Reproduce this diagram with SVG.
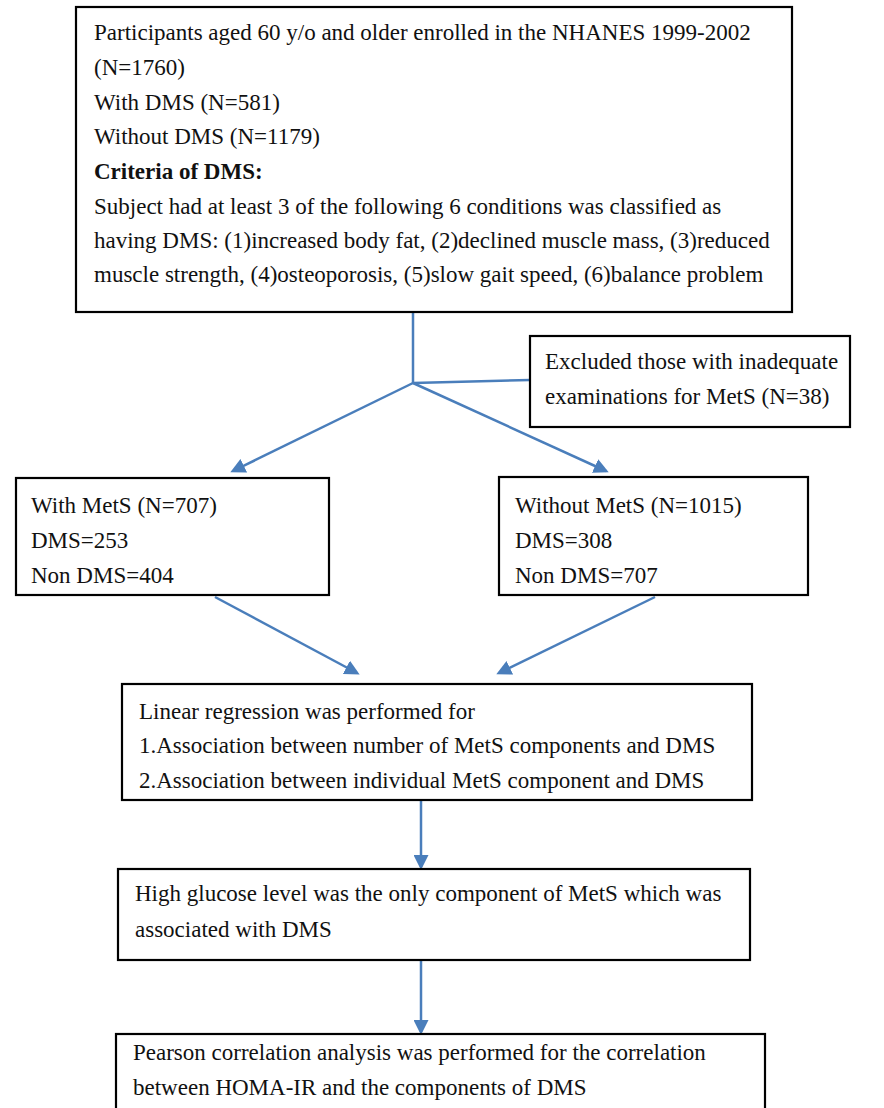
<svg xmlns="http://www.w3.org/2000/svg" width="884" height="1108" viewBox="0 0 884 1108">
<defs>
<style>
.box{fill:#fff;stroke:#000;stroke-width:2.2}
.t{font-family:"Liberation Serif","Times New Roman","DejaVu Serif",serif;font-size:23px;fill:#111}
.b{font-weight:bold}
.c{stroke:#4a7ebb;stroke-width:2.5;fill:none}
</style>
<marker id="ah" viewBox="0 0 10 10" refX="8" refY="5" markerWidth="6" markerHeight="6" orient="auto" markerUnits="strokeWidth"><path d="M0,0L10,5L0,10z" fill="#4a7ebb"/></marker>
</defs>
<rect width="884" height="1108" fill="#fff"/>
<g id="connectors">
<path class="c" d="M413,312V383"/>
<path class="c" d="M413,383L530,380"/>
<path class="c" d="M413,383L233,471" marker-end="url(#ah)"/>
<path class="c" d="M413,383L606,471" marker-end="url(#ah)"/>
<path class="c" d="M215,597L357,673" marker-end="url(#ah)"/>
<path class="c" d="M655,597L499,673" marker-end="url(#ah)"/>
<path class="c" d="M421,801V867" marker-end="url(#ah)"/>
<path class="c" d="M421,961V1032" marker-end="url(#ah)"/>
</g>
<g id="n_participants">
<rect class="box" x="76" y="7" width="716" height="305"/>
<text class="t" x="94" y="40">Participants aged 60 y/o and older enrolled in the NHANES 1999-2002</text>
<text class="t" x="94" y="75">(N=1760)</text>
<text class="t" x="94" y="110">With DMS (N=581)</text>
<text class="t" x="94" y="144">Without DMS (N=1179)</text>
<text class="t b" x="94" y="179">Criteria of DMS:</text>
<text class="t" x="94" y="214">Subject had at least 3 of the following 6 conditions was classified as</text>
<text class="t" x="94" y="248">having DMS: (1)increased body fat, (2)declined muscle mass, (3)reduced</text>
<text class="t" x="94" y="282">muscle strength, (4)osteoporosis, (5)slow gait speed, (6)balance problem</text>
</g>
<g id="n_excluded">
<rect class="box" x="530" y="336" width="320" height="91"/>
<text class="t" x="545" y="369">Excluded those with inadequate</text>
<text class="t" x="545" y="404">examinations for MetS (N=38)</text>
</g>
<g id="n_with_mets">
<rect class="box" x="16" y="478" width="313" height="117"/>
<text class="t" x="31" y="513">With MetS (N=707)</text>
<text class="t" x="31" y="548">DMS=253</text>
<text class="t" x="31" y="583">Non DMS=404</text>
</g>
<g id="n_without_mets">
<rect class="box" x="499" y="477" width="309" height="118"/>
<text class="t" x="515" y="513">Without MetS (N=1015)</text>
<text class="t" x="515" y="548">DMS=308</text>
<text class="t" x="515" y="583">Non DMS=707</text>
</g>
<g id="n_linear">
<rect class="box" x="122" y="684" width="630" height="116"/>
<text class="t" x="139" y="719">Linear regression was performed for</text>
<text class="t" x="139" y="753">1.Association between number of MetS components and DMS</text>
<text class="t" x="139" y="788">2.Association between individual MetS component and DMS</text>
</g>
<g id="n_glucose">
<rect class="box" x="118" y="869" width="632" height="91"/>
<text class="t" x="135" y="901">High glucose level was the only component of MetS which was</text>
<text class="t" x="135" y="937">associated with DMS</text>
</g>
<g id="n_pearson">
<rect class="box" x="116" y="1034" width="649" height="90"/>
<text class="t" x="133" y="1060">Pearson correlation analysis was performed for the correlation</text>
<text class="t" x="133" y="1095">between HOMA-IR and the components of DMS</text>
</g>
</svg>
